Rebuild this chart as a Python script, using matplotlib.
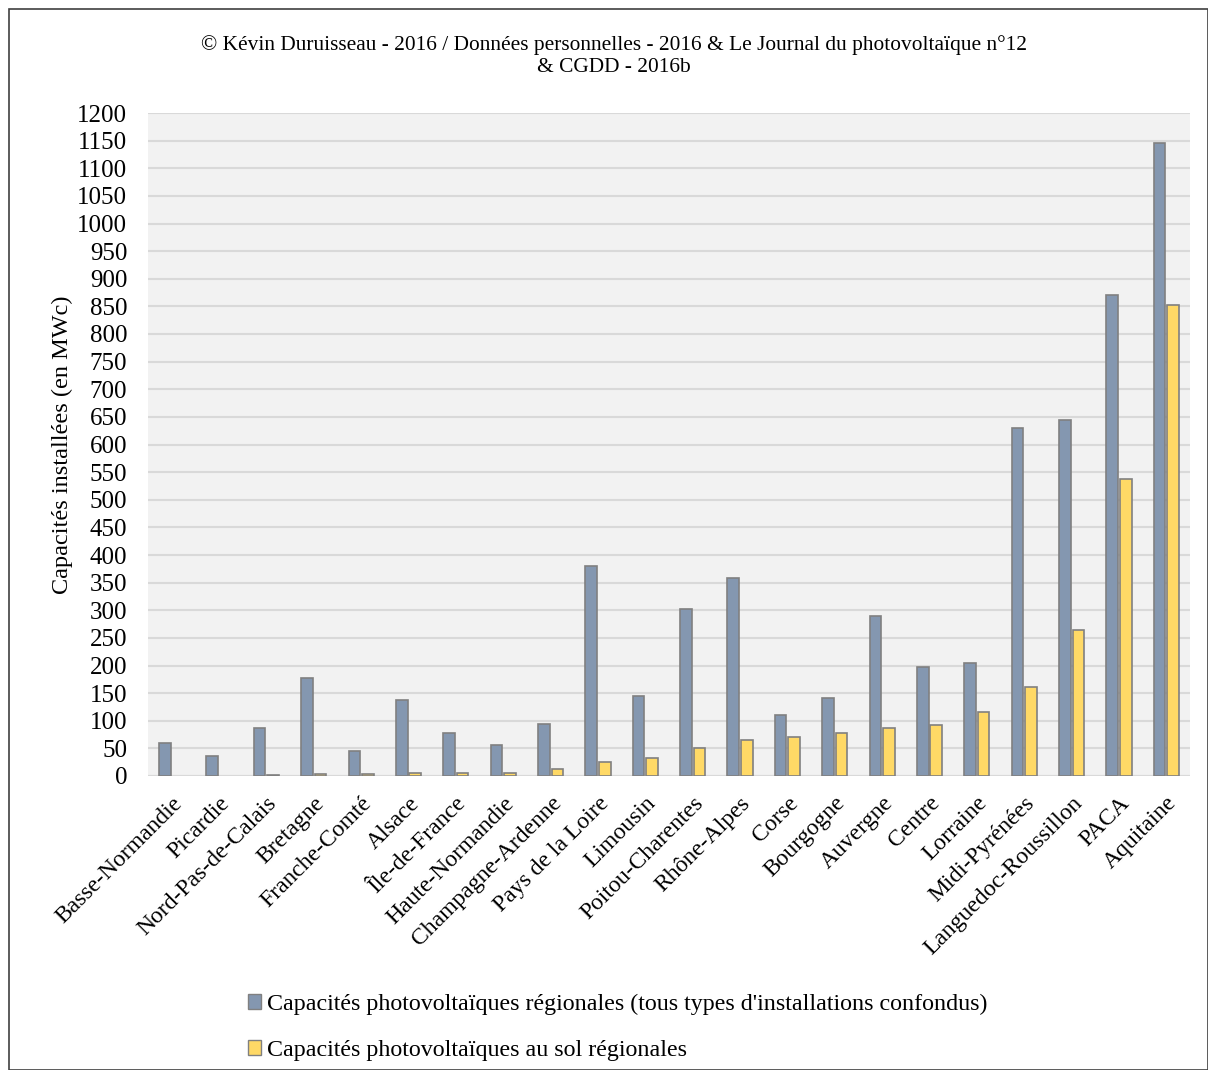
import matplotlib
matplotlib.use("Agg")
import matplotlib.pyplot as plt
import numpy as np
from matplotlib.patches import Rectangle

regions = ["Basse-Normandie", "Picardie", "Nord-Pas-de-Calais", "Bretagne", "Franche-Comté",
           "Alsace", "Île-de-France", "Haute-Normandie", "Champagne-Ardenne", "Pays de la Loire",
           "Limousin", "Poitou-Charentes", "Rhône-Alpes", "Corse", "Bourgogne", "Auvergne",
           "Centre", "Lorraine", "Midi-Pyrénées", "Languedoc-Roussillon", "PACA", "Aquitaine"]
total = [60, 36, 87, 177, 45, 138, 78, 56, 94, 380, 145, 302, 358, 110, 142, 290,
         198, 205, 630, 644, 870, 1145]
sol = [0, 0, 1, 3, 3, 5, 5, 5, 13, 25, 32, 50, 66, 71, 78, 86, 93, 115, 161, 264, 537, 852]

series_names = ["Capacités photovoltaïques régionales (tous types d'installations confondus)",
                "Capacités photovoltaïques au sol régionales"]
title = "© Kévin Duruisseau - 2016 / Données personnelles - 2016 & Le Journal du photovoltaïque n°12\n& CGDD - 2016b"
ylabel = "Capacités installées (en MWc)"
yticks = list(range(0, 1201, 50))

plt.rcParams['font.family'] = ['Liberation Serif', 'DejaVu Serif']

fig = plt.figure(figsize=(12.08, 10.70), dpi=100)
fig.patch.set_facecolor('white')
ax = fig.add_axes([148/1208, 1 - 776/1070, (1190-148)/1208, (776-113)/1070])
ax.set_facecolor('#f2f2f2')

x = np.arange(len(regions))
w = 0.245
off = w/2 + 0.02
ax.bar(x - off, total, width=w, color='#8497B0', edgecolor='#808080',
       linewidth=[1.2 if v > 0 else 0 for v in total], label=series_names[0], zorder=3)
ax.bar(x + off, sol, width=w, color='#FFD966', edgecolor='#808080',
       linewidth=[1.2 if v > 0 else 0 for v in sol], label=series_names[1], zorder=3)

ax.set_xlim(-0.5, len(regions) - 0.5)
ax.set_ylim(0, 1200)
ax.set_yticks(yticks)
ax.set_yticklabels([str(v) for v in yticks], fontsize=18)
ax.yaxis.grid(True, color='#d9d9d9', linewidth=1.5, zorder=0)
ax.set_axisbelow(True)
ax.tick_params(axis='both', length=0)
ax.tick_params(axis='y', pad=15)
for s in ax.spines.values():
    s.set_visible(False)
ax.axhline(0, color='#d9d9d9', linewidth=1.5, zorder=2)

ax.set_xticks(x)
ax.set_xticklabels(regions, rotation=45, ha='right', rotation_mode='anchor', fontsize=17)
ax.tick_params(axis='x', pad=12)
ax.set_ylabel(ylabel, fontsize=17.5, labelpad=3)

fig.text(0.508, 1 - 56/1070, title, ha='center', va='center', fontsize=15.4, linespacing=1.15)

leg = fig.legend(loc='upper left', bbox_to_anchor=(226/1208, 1 - 972/1070), frameon=False,
                 fontsize=17.3, handlelength=0.55, handleheight=0.55, handletextpad=0.25,
                 labelspacing=1.05, ncol=1)
for h in leg.legend_handles:
    h.set_edgecolor('#808080')
    h.set_linewidth(1.0)

fig.add_artist(Rectangle((9/1208, 0), 1 - 9/1208, 1 - 9/1070, transform=fig.transFigure,
                         fill=False, edgecolor='#404040', linewidth=1.2))

fig.savefig('out.png', dpi=100, facecolor='white')
